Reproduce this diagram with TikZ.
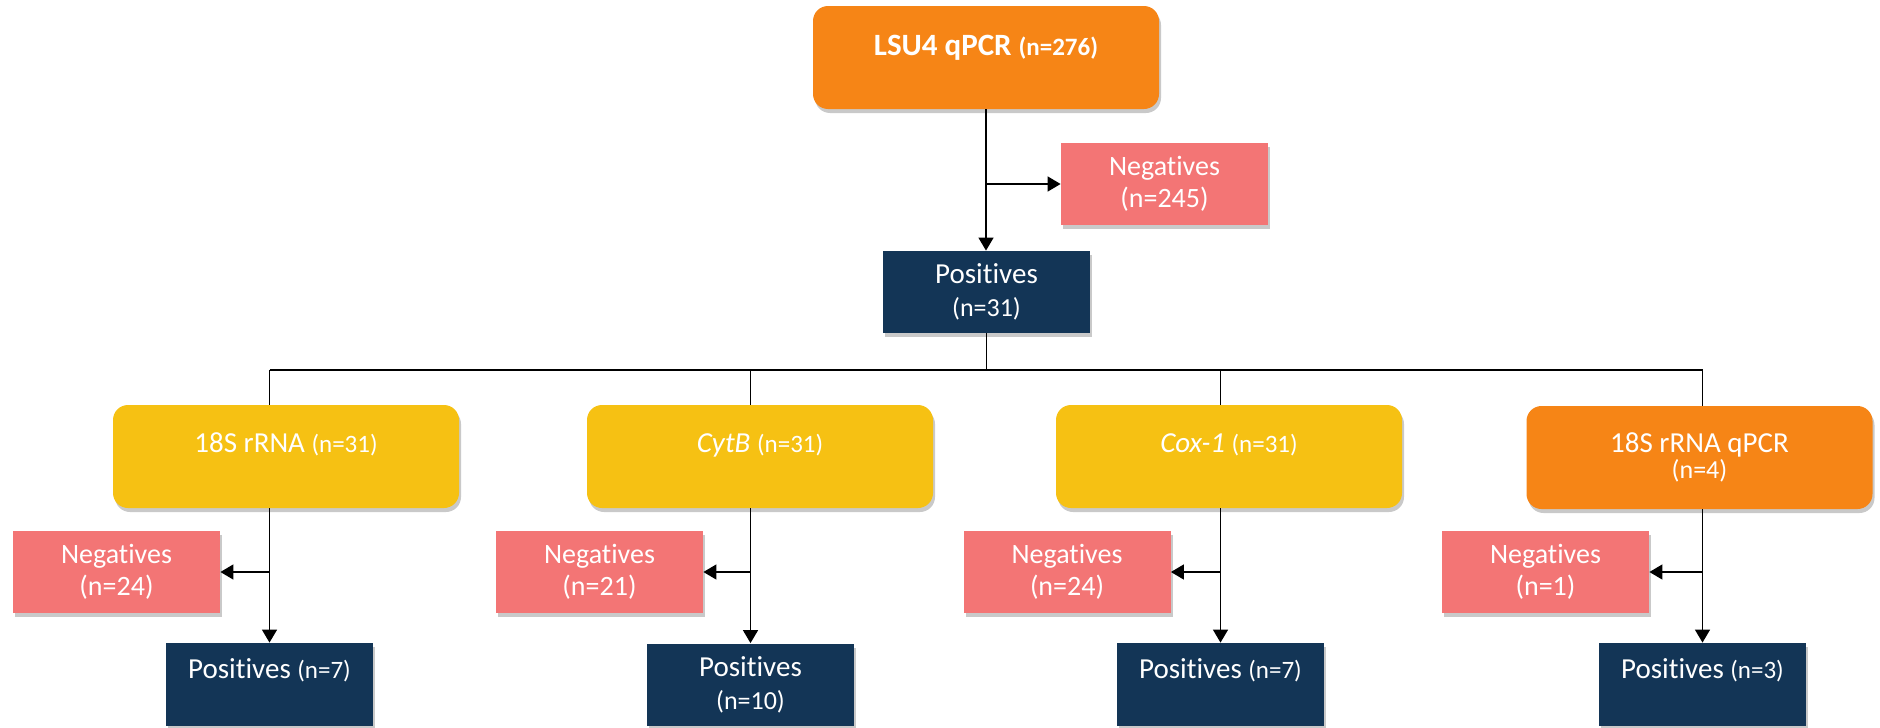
\documentclass[tikz,border=0pt]{standalone}
\usepackage{fontspec}
\setmainfont{Carlito}[Ligatures={NoCommon}]
\usetikzlibrary{arrows.meta,shadows}

\definecolor{boxorange}{RGB}{246,133,22}
\definecolor{boxyellow}{RGB}{246,193,19}
\definecolor{boxpink}{RGB}{243,117,117}
\definecolor{boxnavy}{RGB}{19,53,86}

\newcommand{\labelsize}{\fontsize{14.5}{16}\selectfont}
\newcommand{\countsize}{\fontsize{12.5}{14}\selectfont}

\tikzset{
  card/.style={inner sep=0pt, text=white, align=center,
    drop shadow={shadow xshift=1pt, shadow yshift=-2pt, opacity=0.3, fill=black!70}},
  roundcard/.style={card, rounded corners=7.5pt, minimum width=173pt, minimum height=51.5pt},
  flatcard/.style={card, minimum width=103.5pt, minimum height=41pt},
  topbox/.style={roundcard, fill=boxorange},
  genebox/.style={roundcard, fill=boxyellow},
  negbox/.style={flatcard, fill=boxpink, font=\fontsize{14}{16}\selectfont},
  posbox/.style={flatcard, fill=boxnavy, font=\fontsize{14.5}{16.5}\selectfont},
  link/.style={draw=black, line width=0.7pt},
  flow/.style={link, -{Triangle[width=7.5pt,length=6.5pt]}}
}

\begin{document}
\begin{tikzpicture}[x=0.5pt,y=-0.5pt]
\useasboundingbox (0,0) rectangle (1880,728);

% first screening
\node[topbox, text height=24pt, text depth=26.5pt] (lsu) at (986,57.5)
  {\fontsize{15.5}{18}\selectfont\bfseries LSU4 qPCR {\fontsize{12.5}{14}\selectfont(n=276)}};
\node[negbox] (neg0) at (1164.5,184) {Negatives\\(n=245)};
\node[posbox] (pos0) at (986.5,292) {Positives\\{\fontsize{13}{15}\selectfont(n=31)}};

% second-stage assays
\node[genebox, text height=23.5pt, text depth=28pt] (g1) at (286,456.5)
  {\labelsize 18S rRNA {\countsize(n=31)}};
\node[genebox, text height=23.5pt, text depth=28pt] (g2) at (760,456.5)
  {\labelsize\itshape CytB\upshape{} {\countsize(n=31)}};
\node[genebox, text height=23.5pt, text depth=28pt] (g3) at (1229,456.5)
  {\labelsize\itshape Cox-1\upshape{} {\countsize(n=31)}};
\node[topbox] (g4) at (1699.5,457.5)
  {\labelsize 18S rRNA qPCR\\[1pt]{\fontsize{13}{15}\selectfont(n=4)}};

% negatives per assay
\node[negbox] (n1) at (116.5,572) {Negatives\\(n=24)};
\node[negbox] (n2) at (599.5,572) {Negatives\\(n=21)};
\node[negbox] (n3) at (1067,572) {Negatives\\(n=24)};
\node[negbox] (n4) at (1545.5,572) {Negatives\\(n=1)};

% positives per assay
\node[posbox, text height=17.5pt, text depth=24pt] (p1) at (269.5,684.5)
  {Positives {\countsize(n=7)}};
\node[posbox] (p2) at (750.5,684.5) {Positives\\{\fontsize{13}{15}\selectfont(n=10)}};
\node[posbox, text height=17.5pt, text depth=24pt] (p3) at (1220.5,684.5)
  {Positives {\countsize(n=7)}};
\node[posbox, text height=17.5pt, text depth=24pt] (p4) at (1702.5,684.5)
  {Positives {\countsize(n=3)}};

% connectors
\draw[flow] (lsu.south) -- (lsu.south |- pos0.north);
\draw[flow] (lsu.south |- neg0.west) -- (neg0.west);

\coordinate (split) at (986.5,370);
\draw[link] (pos0.south) -- (split);
\draw[link] (split -| p1.north) -- (split -| p4.north);
\foreach \i in {1,2,3,4}{
  \draw[link] (split -| p\i.north) -- (p\i.north |- g\i.north);
  \draw[flow] (p\i.north |- g\i.south) -- (p\i.north);
  \draw[flow] (p\i.north |- n\i.east) -- (n\i.east);
}
\end{tikzpicture}
\end{document}
